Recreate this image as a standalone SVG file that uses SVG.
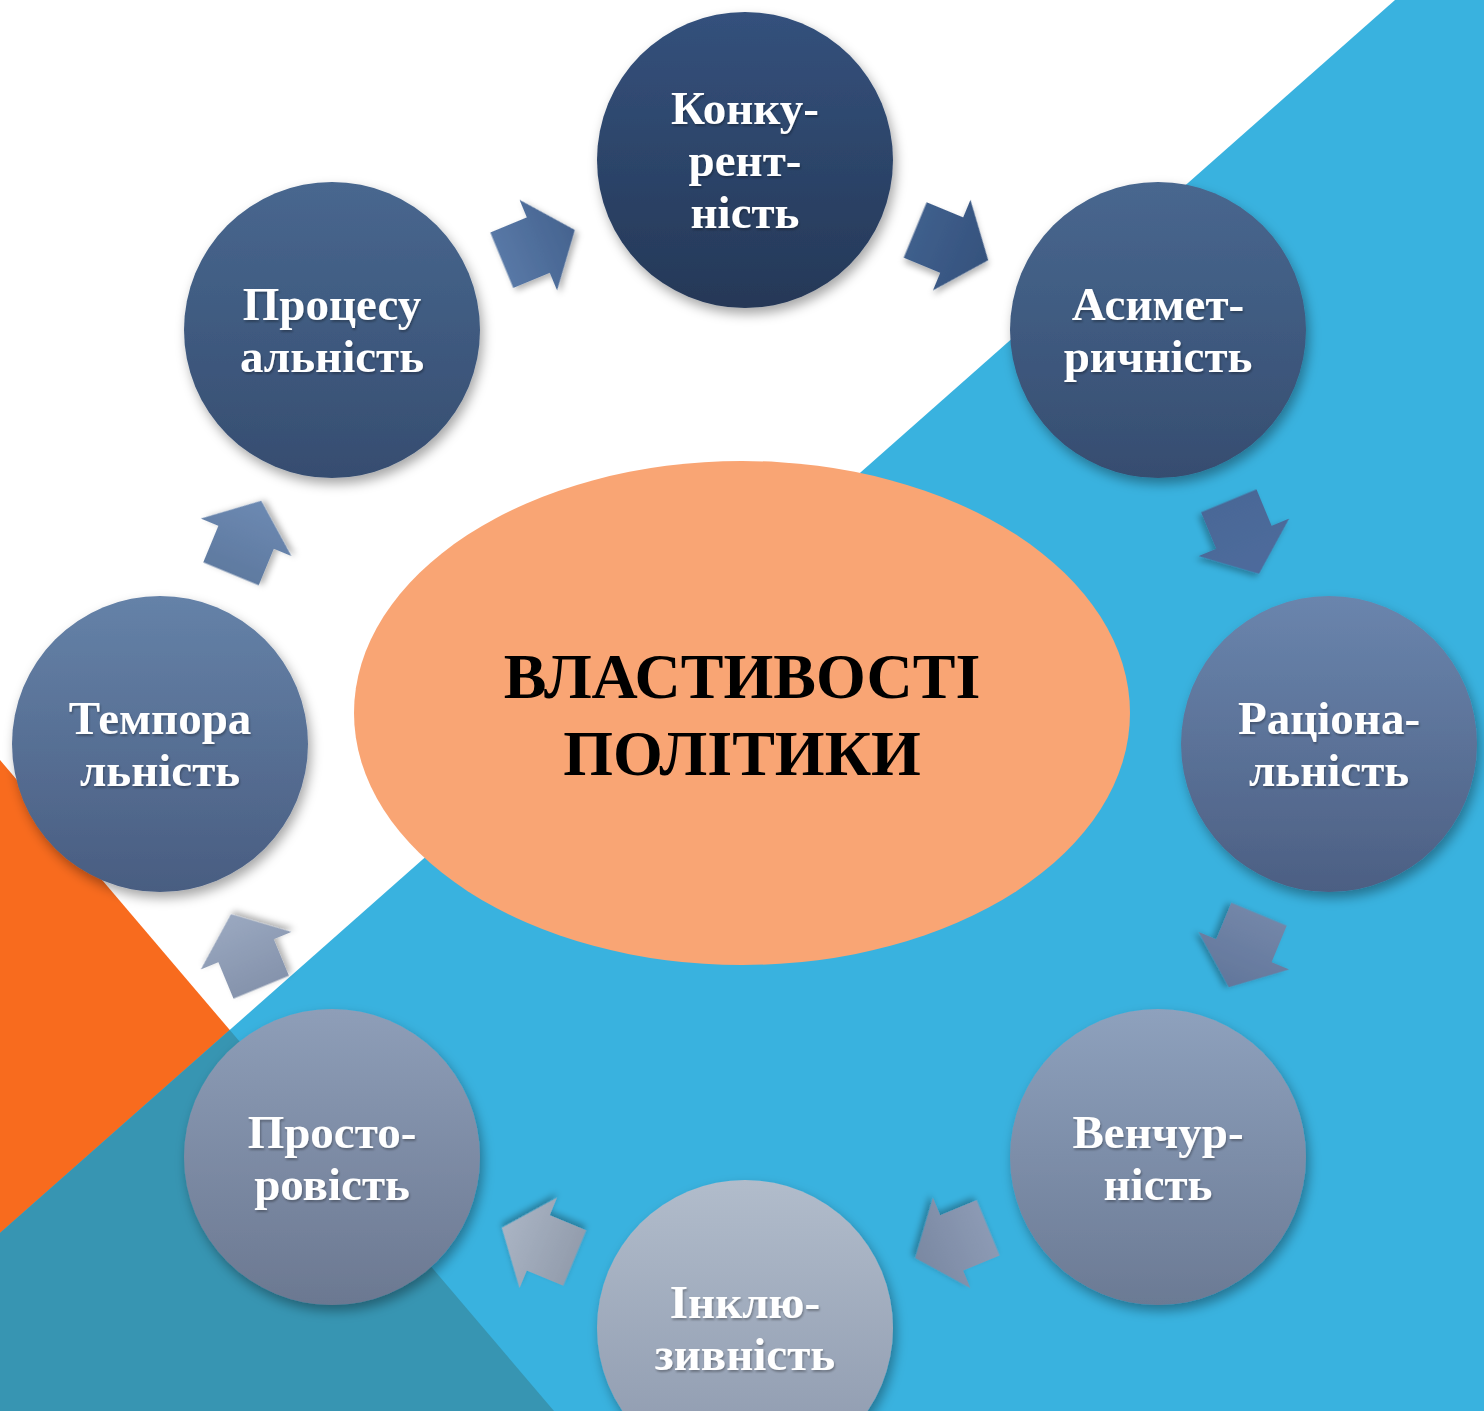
<svg xmlns="http://www.w3.org/2000/svg" width="1484" height="1411" viewBox="0 0 1484 1411">
<defs>
<style>
.lbl{font-family:"Liberation Serif","Times New Roman",serif;font-weight:bold;font-size:47px;fill:#ffffff;text-anchor:middle;}
.title{font-family:"Liberation Serif","Times New Roman",serif;font-weight:bold;font-size:64px;fill:#000000;text-anchor:middle;}
</style>
<filter id="sh" x="-20%" y="-20%" width="140%" height="140%">
<feDropShadow dx="3" dy="6" stdDeviation="6" flood-color="#000" flood-opacity="0.35"/>
</filter>
<filter id="ash" x="-30%" y="-30%" width="160%" height="160%">
<feDropShadow dx="2" dy="4" stdDeviation="3" flood-color="#000" flood-opacity="0.3"/>
</filter>
<filter id="tsh" x="-10%" y="-30%" width="120%" height="160%">
<feDropShadow dx="1" dy="2" stdDeviation="1.2" flood-color="#000" flood-opacity="0.3"/>
</filter>
<linearGradient id="g1" x1="0" y1="0" x2="0" y2="1"><stop offset="0" stop-color="#34517c"/><stop offset="1" stop-color="#253857"/></linearGradient>
<linearGradient id="g2" x1="0" y1="0" x2="0" y2="1"><stop offset="0" stop-color="#48678f"/><stop offset="1" stop-color="#364d70"/></linearGradient>
<linearGradient id="g3" x1="0" y1="0" x2="0" y2="1"><stop offset="0" stop-color="#6a85ad"/><stop offset="1" stop-color="#4c5f83"/></linearGradient>
<linearGradient id="g4" x1="0" y1="0" x2="0" y2="1"><stop offset="0" stop-color="#8ea1bd"/><stop offset="1" stop-color="#6b7a94"/></linearGradient>
<linearGradient id="g5" x1="0" y1="0" x2="0" y2="1"><stop offset="0" stop-color="#b1bccb"/><stop offset="1" stop-color="#8c98ad"/></linearGradient>
<linearGradient id="g6" x1="0" y1="0" x2="0" y2="1"><stop offset="0" stop-color="#8e9eb8"/><stop offset="1" stop-color="#6b7891"/></linearGradient>
<linearGradient id="g7" x1="0" y1="0" x2="0" y2="1"><stop offset="0" stop-color="#6582a8"/><stop offset="1" stop-color="#495d81"/></linearGradient>
<linearGradient id="g8" x1="0" y1="0" x2="0" y2="1"><stop offset="0" stop-color="#48678f"/><stop offset="1" stop-color="#364d70"/></linearGradient>
<linearGradient id="a1" x1="0" y1="0" x2="1" y2="0"><stop offset="0" stop-color="#5878a6"/><stop offset="1" stop-color="#45638f"/></linearGradient>
<linearGradient id="a2" x1="0" y1="0" x2="1" y2="0"><stop offset="0" stop-color="#3f5f8c"/><stop offset="1" stop-color="#35527d"/></linearGradient>
<linearGradient id="a3" x1="0" y1="0" x2="1" y2="0"><stop offset="0" stop-color="#4a6897"/><stop offset="1" stop-color="#4e6b9c"/></linearGradient>
<linearGradient id="a4" x1="0" y1="0" x2="1" y2="0"><stop offset="0" stop-color="#7386a8"/><stop offset="1" stop-color="#62769b"/></linearGradient>
<linearGradient id="a5" x1="0" y1="0" x2="1" y2="0"><stop offset="0" stop-color="#8c9ab4"/><stop offset="1" stop-color="#7a88a2"/></linearGradient>
<linearGradient id="a6" x1="0" y1="0" x2="1" y2="0"><stop offset="0" stop-color="#939dad"/><stop offset="1" stop-color="#aab4c4"/></linearGradient>
<linearGradient id="a7" x1="0" y1="0" x2="1" y2="0"><stop offset="0" stop-color="#8593ac"/><stop offset="1" stop-color="#9aa8c0"/></linearGradient>
<linearGradient id="a8" x1="0" y1="0" x2="1" y2="0"><stop offset="0" stop-color="#5f7aa0"/><stop offset="1" stop-color="#6c89b2"/></linearGradient>
<polygon id="arr" points="-39.5,-30 0,-30 0,-49 39.5,0 0,49 0,30 -39.5,30"/>
</defs>

<g id="background">
<rect x="0" y="0" width="1484" height="1411" fill="#ffffff"/>
<polygon points="0,760 554,1411 0,1411" fill="#f86b1e"/>
<polygon points="1395,0 1484,0 1484,1411 0,1411 0,1233" fill="#39b2df"/>
<polygon points="0,1233 229.8,1030 554,1411 0,1411" fill="#3795b2"/>
</g>

<g id="connectors">
<use href="#arr" transform="translate(538.3,245.1) rotate(-22.5)" fill="url(#a1)" filter="url(#ash)"/>
<use href="#arr" transform="translate(951.7,245.1) rotate(22.5)" fill="url(#a2)" filter="url(#ash)"/>
<use href="#arr" transform="translate(1243.9,537.3) rotate(67.5)" fill="url(#a3)" filter="url(#ash)"/>
<use href="#arr" transform="translate(1243.9,950.7) rotate(112.5)" fill="url(#a4)" filter="url(#ash)"/>
<use href="#arr" transform="translate(951.7,1242.9) rotate(157.5)" fill="url(#a5)" filter="url(#ash)"/>
<use href="#arr" transform="translate(538.3,1242.9) rotate(202.5)" fill="url(#a6)" filter="url(#ash)"/>
<use href="#arr" transform="translate(246.1,950.7) rotate(247.5)" fill="url(#a7)" filter="url(#ash)"/>
<use href="#arr" transform="translate(246.1,537.3) rotate(292.5)" fill="url(#a8)" filter="url(#ash)"/>
</g>

<g id="center">
<ellipse cx="742" cy="713" rx="388" ry="252" fill="#f9a574"/>
<text class="title" x="742" y="698">ВЛАСТИВОСТІ</text>
<text class="title" x="742" y="775">ПОЛІТИКИ</text>
</g>

<g id="n1">
<circle cx="745" cy="160" r="148" fill="url(#g1)" filter="url(#sh)"/>
<g filter="url(#tsh)"><text class="lbl" x="745" y="124">Конку-</text><text class="lbl" x="745" y="176">рент-</text><text class="lbl" x="745" y="228">ність</text></g>
</g>
<g id="n2">
<circle cx="1158" cy="330" r="148" fill="url(#g2)" filter="url(#sh)"/>
<g filter="url(#tsh)"><text class="lbl" x="1158" y="320">Асимет-</text><text class="lbl" x="1158" y="372">ричність</text></g>
</g>
<g id="n3">
<circle cx="1329" cy="744" r="148" fill="url(#g3)" filter="url(#sh)"/>
<g filter="url(#tsh)"><text class="lbl" x="1329" y="734">Раціона-</text><text class="lbl" x="1329" y="786">льність</text></g>
</g>
<g id="n4">
<circle cx="1158" cy="1157" r="148" fill="url(#g4)" filter="url(#sh)"/>
<g filter="url(#tsh)"><text class="lbl" x="1158" y="1148">Венчур-</text><text class="lbl" x="1158" y="1200">ність</text></g>
</g>
<g id="n5">
<circle cx="745" cy="1328" r="148" fill="url(#g5)" filter="url(#sh)"/>
<g filter="url(#tsh)"><text class="lbl" x="745" y="1318">Інклю-</text><text class="lbl" x="745" y="1370">зивність</text></g>
</g>
<g id="n6">
<circle cx="332" cy="1157" r="148" fill="url(#g6)" filter="url(#sh)"/>
<g filter="url(#tsh)"><text class="lbl" x="332" y="1148">Просто-</text><text class="lbl" x="332" y="1200">ровість</text></g>
</g>
<g id="n7">
<circle cx="160" cy="744" r="148" fill="url(#g7)" filter="url(#sh)"/>
<g filter="url(#tsh)"><text class="lbl" x="160" y="734">Темпора</text><text class="lbl" x="160" y="786">льність</text></g>
</g>
<g id="n8">
<circle cx="332" cy="330" r="148" fill="url(#g8)" filter="url(#sh)"/>
<g filter="url(#tsh)"><text class="lbl" x="332" y="320">Процесу</text><text class="lbl" x="332" y="372">альність</text></g>
</g>
</svg>
